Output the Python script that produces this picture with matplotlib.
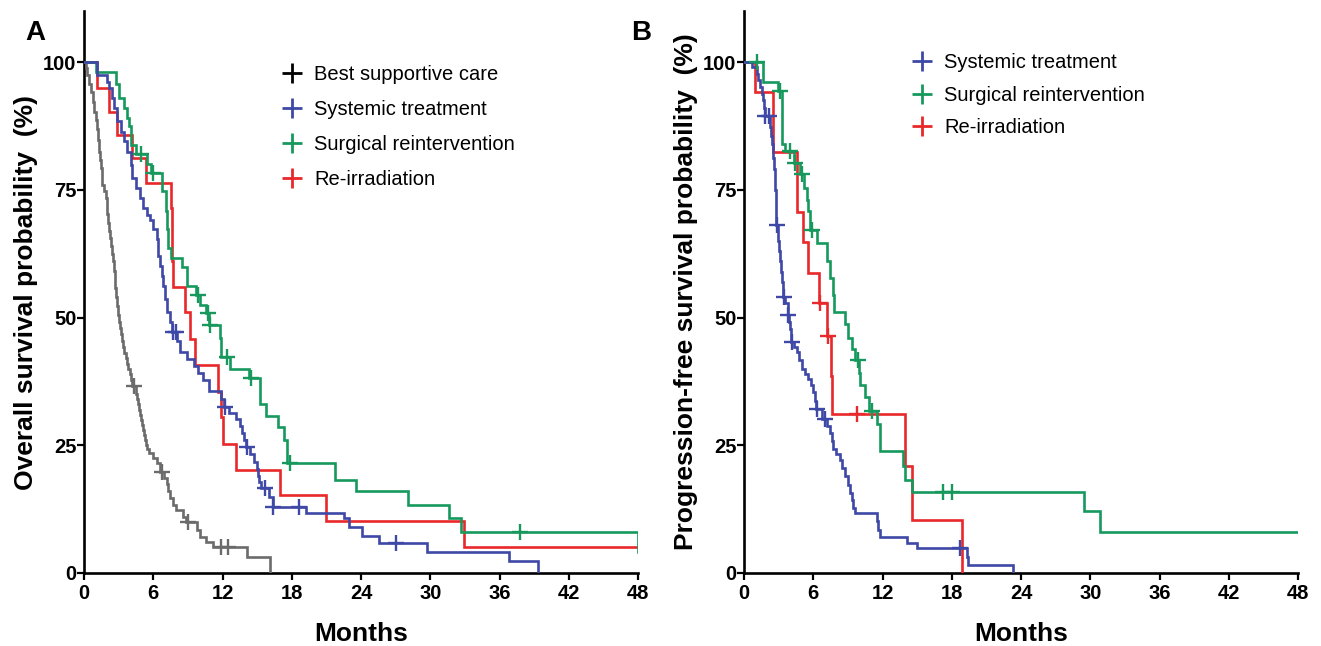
import numpy as np
import matplotlib
matplotlib.use("Agg")
import matplotlib.pyplot as plt
from matplotlib.lines import Line2D

plt.rcParams['font.family'] = ['Liberation Sans', 'DejaVu Sans']

# ---------------- Panel A: overall survival ----------------
bsc_t = [0, 0.15, 0.3, 0.45, 0.6, 0.75, 0.9, 1.0, 1.15, 1.22, 1.3, 1.38, 1.45, 1.52, 1.6, 1.75, 1.9, 1.95,
         2.0, 2.1, 2.2, 2.28, 2.35, 2.42, 2.5, 2.58, 2.65, 2.72, 2.8, 2.88, 2.95, 3.02, 3.1, 3.2, 3.3, 3.4,
         3.5, 3.6, 3.7, 3.82, 3.95, 4.05, 4.15, 4.5, 4.6, 4.7, 4.78, 4.85, 4.92, 5.0, 5.1, 5.2, 5.3, 5.4,
         5.5, 5.6, 5.95, 6.3, 6.55, 6.95, 7.17, 7.3, 7.45, 7.7, 8.0, 8.6, 8.85, 9.77, 10.05, 10.6, 11.2,
         14.1, 16.1]
bsc_s = [100, 98.8, 97.5, 95.8, 94.2, 92.2, 90.3, 88.6, 87.0, 84.7, 82.5, 80.9, 79.3, 77.6, 76.0, 74.7, 73.4, 71.8,
         70.2, 68.6, 67.0, 65.5, 64.0, 62.5, 61.0, 59.2, 57.5, 55.7, 54.0, 52.2, 50.5, 49.2, 48.0, 46.7, 45.5, 44.2,
         43.0, 42.0, 41.0, 40.0, 39.0, 37.8, 36.6, 35.0, 34.0, 33.0, 32.0, 31.0, 30.0, 29.0, 28.0, 27.0, 26.0, 25.0,
         24.2, 23.4, 22.5, 21.5, 19.8, 18.6, 17.5, 16.0, 14.6, 13.4, 12.3, 11.0, 10.0, 8.4, 7.1, 6.0, 5.1,
         3.2, 0.0]
bsc_cens = [4.3, 6.73, 9.04, 11.9, 12.5]

sysA_t = [0, 1.15, 2.0, 2.17, 2.46, 2.6, 2.89, 3.18, 3.47, 3.75, 4.04, 4.19, 4.48, 4.85, 5.14, 5.43, 5.72, 6.0,
          6.3, 6.44, 6.59, 6.73, 6.87, 7.0, 7.17, 7.45, 7.6, 8.05, 8.3, 8.9, 9.5, 9.9, 10.3, 10.8, 11.85, 12.1,
          12.6, 13.2, 13.5, 13.7, 13.9, 14.05, 14.4, 14.7, 15.0, 15.1, 15.2, 15.3, 16.0, 16.35, 19.2, 22.5, 23.0,
          24.1, 25.6, 29.7, 36.8, 39.3]
sysA_s = [100, 97.5, 96.2, 94.9, 92.9, 91.0, 88.4, 86.4, 84.5, 82.5, 79.9, 77.3, 75.4, 73.4, 71.5, 70.0, 69.0, 67.3,
          65.3, 62.0, 60.1, 58.1, 56.2, 53.6, 51.0, 49.1, 47.1, 45.5, 43.2, 41.9, 40.6, 39.2, 37.8, 35.6, 34.0, 32.5,
          31.3, 30.2, 28.8, 27.4, 26.0, 24.7, 23.3, 21.8, 20.4, 19.0, 17.8, 16.6, 14.8, 13.0, 11.7, 10.7, 9.1,
          7.3, 5.8, 4.2, 2.4, 0.0]
sysA_cens = [7.75, 8.0, 12.2, 14.15, 15.7, 16.4, 18.6, 27.0]

surA_t = [0, 1.0, 2.74, 3.03, 3.47, 3.75, 3.9, 4.04, 4.5, 5.5, 5.8, 6.8, 7.08, 7.17, 7.3, 7.5, 8.5, 8.9, 9.7,
          10.05, 10.6, 10.85, 11.8, 11.9, 12.65, 14.3, 15.25, 15.8, 16.8, 17.3, 17.6, 21.75, 23.6, 28.1, 31.6,
          32.7, 48.0]
surA_s = [100, 98.1, 95.8, 92.9, 91.0, 89.0, 87.4, 83.8, 82.0, 80.0, 78.3, 74.7, 70.8, 67.3, 63.7, 61.7, 59.8, 56.2, 54.4,
          52.5, 50.9, 48.6, 45.9, 42.2, 40.0, 38.2, 33.1, 30.8, 28.5, 26.1, 21.6, 18.3, 16.0, 13.4, 10.8,
          8.1, 4.2]
surA_cens = [4.9, 5.95, 9.9, 10.77, 10.95, 12.4, 14.45, 17.85, 37.8]

reiA_t = [0, 1.15, 2.17, 2.89, 4.19, 5.34, 7.5, 7.6, 7.7, 8.75, 9.2, 9.6, 11.6, 11.85, 12.05, 13.2, 17.0, 21.0, 32.9, 48.0]
reiA_s = [100, 94.9, 90.3, 85.8, 81.2, 76.4, 71.5, 61.0, 56.0, 51.0, 45.8, 40.7, 35.5, 30.6, 25.3, 20.1, 15.2, 10.2, 5.0, 5.0]
reiA_cens = []

# ---------------- Panel B: progression-free survival ----------------
sysB_t = [0, 0.67, 1.1, 1.25, 1.39, 1.53, 1.67, 1.75, 1.78, 2.25, 2.32, 2.4, 2.47, 2.54, 2.6, 2.65, 2.72, 2.77,
          2.78, 2.81, 2.92, 2.97, 3.05, 3.12, 3.2, 3.27, 3.35, 3.38, 3.55, 3.78, 3.92, 3.99, 4.07, 4.1, 4.35,
          4.57, 4.8, 5.0, 5.3, 5.57, 5.8, 6.0, 6.15, 6.25, 6.8, 7.2, 7.45, 7.6, 7.74, 8.0, 8.3, 8.5, 8.75, 9.0,
          9.19, 9.33, 9.47, 9.6, 11.5, 11.64, 11.8, 14.1, 15.0, 19.3, 19.44, 23.3]
sysB_s = [100, 99.0, 97.7, 96.4, 95.1, 93.8, 92.5, 91.0, 89.5, 87.2, 85.5, 83.9, 82.6, 81.3, 79.0, 76.7, 75.0, 73.4,
          71.6, 68.2, 66.5, 64.9, 63.0, 61.0, 59.0, 57.0, 55.5, 54.1, 52.8, 50.5, 49.1, 47.8, 46.5, 45.2, 44.2,
          43.2, 41.6, 40.0, 39.0, 38.0, 36.7, 35.4, 33.7, 32.1, 30.1, 28.8, 27.5, 25.8, 24.2, 23.2, 22.2, 20.6, 19.0, 17.3,
          15.7, 14.2, 12.7, 11.8, 10.2, 8.5, 7.0, 5.9, 4.9, 3.2, 1.6, 0.0]
sysB_cens = [1.85, 2.2, 2.85, 3.45, 3.84, 4.15, 6.3, 7.0, 18.7]

surB_t = [0, 1.67, 2.97, 3.27, 3.55, 4.3, 4.85, 5.2, 5.45, 5.57, 5.75, 6.3, 7.17, 7.45, 7.74, 7.8, 8.75, 9.04,
          9.33, 9.6, 9.95, 10.05, 10.49, 10.8, 11.5, 11.79, 13.8, 13.95, 14.53, 29.5, 30.85, 48.0]
surB_s = [100, 96.1, 94.4, 84.0, 82.6, 80.3, 78.0, 75.4, 73.1, 70.8, 67.2, 64.6, 61.0, 57.7, 54.4, 51.1, 48.7, 45.9,
          43.9, 41.6, 39.1, 36.7, 34.4, 31.8, 29.1, 23.9, 20.9, 18.3, 15.8, 12.1, 8.1, 8.1]
surB_cens = [1.1, 3.12, 4.0, 4.42, 5.0, 5.87, 9.9, 11.07, 17.27, 18.0]

reiB_t = [0, 0.95, 2.54, 4.57, 5.1, 5.57, 6.5, 7.17, 7.55, 7.65, 13.95, 14.53, 18.87]
reiB_s = [100, 94.1, 82.4, 70.6, 64.7, 58.8, 52.9, 46.4, 38.6, 31.1, 20.9, 10.4, 0.0]
reiB_cens = [6.6, 7.3, 9.77]

x_ticks = [0, 6, 12, 18, 24, 30, 36, 42, 48]
y_ticks = [0, 25, 50, 75, 100]

C_GRAY = '#6b6b6b'
C_BLUE = '#3e48a6'
C_GREEN = '#17995e'
C_RED = '#e8282a'

fig = plt.figure(figsize=(13.21, 6.46), dpi=100)
W, H = 1321, 646
axA = fig.add_axes([84 / W, (H - 573) / H, 554 / W, 562 / H])
axB = fig.add_axes([744 / W, (H - 573) / H, 554 / W, 562 / H])


def draw(ax, t, s, cens, color):
    t = np.asarray(t, float)
    s = np.asarray(s, float)
    ax.step(t, s, where='post', color=color, lw=1.9, solid_joinstyle='miter', zorder=3)
    if len(cens):
        c = np.asarray(cens, float)
        idx = np.searchsorted(t, c, side='right') - 1
        ax.plot(c, s[idx], linestyle='None', marker='+', color=color, ms=11, mew=1.7, zorder=4)


draw(axA, bsc_t, bsc_s, bsc_cens, C_GRAY)
draw(axA, reiA_t, reiA_s, reiA_cens, C_RED)
draw(axA, surA_t, surA_s, surA_cens, C_GREEN)
draw(axA, sysA_t, sysA_s, sysA_cens, C_BLUE)

draw(axB, reiB_t, reiB_s, reiB_cens, C_RED)
draw(axB, surB_t, surB_s, surB_cens, C_GREEN)
draw(axB, sysB_t, sysB_s, sysB_cens, C_BLUE)

for ax, ylabel in [(axA, 'Overall survival probability  (%)'),
                   (axB, 'Progression-free survival probability  (%)')]:
    ax.set_xlim(0, 48)
    ax.set_ylim(0, 110)
    ax.set_xticks(x_ticks)
    ax.set_yticks(y_ticks)
    for sp in ['top', 'right']:
        ax.spines[sp].set_visible(False)
    for sp in ['left', 'bottom']:
        ax.spines[sp].set_linewidth(1.9)
        ax.spines[sp].set_capstyle('projecting')
    ax.tick_params(axis='both', direction='out', length=5, width=1.6, labelsize=14.5)
    ax.tick_params(axis='x', pad=3)
    ax.tick_params(axis='y', pad=0.5)
    for lab in ax.get_xticklabels() + ax.get_yticklabels():
        lab.set_fontweight('bold')
    ax.set_xlabel('Months', fontsize=19, fontweight='bold')
    ax.xaxis.set_label_coords(0.5, -0.088)
    ax.set_ylabel(ylabel, fontsize=19, fontweight='bold')
    ax.yaxis.set_label_coords(-0.083, 0.5)

fig.text(35 / W, 1 - 33 / H, 'A', fontsize=20, fontweight='bold', ha='center', va='center')
fig.text(641 / W, 1 - 33 / H, 'B', fontsize=20, fontweight='bold', ha='center', va='center')

labelsA = ['Best supportive care', 'Systemic treatment', 'Surgical reintervention', 'Re-irradiation']
colorsA = ['black', C_BLUE, C_GREEN, C_RED]
labelsB = ['Systemic treatment', 'Surgical reintervention', 'Re-irradiation']
colorsB = [C_BLUE, C_GREEN, C_RED]


def mk_handles(colors):
    return [Line2D([], [], linestyle='None', marker='+', color=c, ms=14, mew=2.0) for c in colors]


legA = axA.legend(mk_handles(colorsA), labelsA, loc='upper left', bbox_to_anchor=(0.357, 0.904),
                  frameon=False, fontsize=14.5, handlelength=1.0, handletextpad=0.6, labelspacing=0.8,
                  borderpad=0, borderaxespad=0)
legB = axB.legend(mk_handles(colorsB), labelsB, loc='upper left', bbox_to_anchor=(0.303, 0.925),
                  frameon=False, fontsize=14.5, handlelength=1.0, handletextpad=0.6, labelspacing=0.67,
                  borderpad=0, borderaxespad=0)

fig.savefig('out.png', dpi=100)
